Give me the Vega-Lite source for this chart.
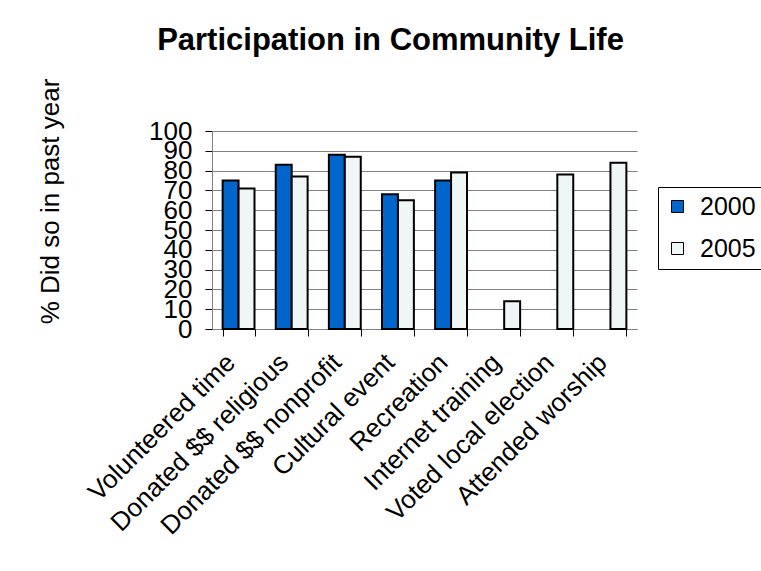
{
  "$schema": "https://vega.github.io/schema/vega-lite/v6.json",
  "autosize": "none",
  "width": 425,
  "height": 198,
  "padding": {"left": 212, "top": 131, "right": 124, "bottom": 242},
  "background": "white",
  "title": {
    "text": "Participation in Community Life",
    "font": "Liberation Sans",
    "fontSize": 31,
    "fontWeight": "bold",
    "color": "black",
    "anchor": "middle",
    "frame": "group",
    "dx": -34,
    "offset": 21
  },
  "data": {
    "values": [
      {"activity": "Volunteered time", "year": "2000", "pct": 75},
      {"activity": "Volunteered time", "year": "2005", "pct": 71},
      {"activity": "Donated $$ religious", "year": "2000", "pct": 83},
      {"activity": "Donated $$ religious", "year": "2005", "pct": 77},
      {"activity": "Donated $$ nonprofit", "year": "2000", "pct": 88},
      {"activity": "Donated $$ nonprofit", "year": "2005", "pct": 87},
      {"activity": "Cultural event", "year": "2000", "pct": 68},
      {"activity": "Cultural event", "year": "2005", "pct": 65},
      {"activity": "Recreation", "year": "2000", "pct": 75},
      {"activity": "Recreation", "year": "2005", "pct": 79},
      {"activity": "Internet training", "year": "2005", "pct": 14},
      {"activity": "Voted local election", "year": "2005", "pct": 78},
      {"activity": "Attended worship", "year": "2005", "pct": 84}
    ]
  },
  "mark": {"type": "bar", "stroke": "black", "strokeWidth": 2},
  "encoding": {
    "x": {
      "field": "activity",
      "type": "nominal",
      "sort": ["Volunteered time", "Donated $$ religious", "Donated $$ nonprofit", "Cultural event", "Recreation", "Internet training", "Voted local election", "Attended worship"],
      "scale": {"paddingInner": 0.4, "paddingOuter": 0.2},
      "axis": {
        "title": null,
        "tickBand": "extent",
        "tickSize": 7,
        "tickColor": "black",
        "domainColor": "#808080",
        "labelAngle": -45,
        "labelAlign": "right",
        "labelBaseline": "middle",
        "labelFont": "Liberation Sans",
        "labelFontSize": 26,
        "labelColor": "black",
        "labelPadding": 22,
        "labelOffset": -8,
        "labelLimit": 0,
        "labelOverlap": false,
        "grid": false
      }
    },
    "xOffset": {"field": "year", "type": "nominal", "scale": {"paddingInner": 0, "paddingOuter": 0}},
    "y": {
      "field": "pct",
      "type": "quantitative",
      "scale": {"domain": [0, 100], "nice": false},
      "axis": {
        "title": "% Did so in past year",
        "titleFont": "Liberation Sans",
        "titleFontSize": 26,
        "titleFontWeight": "normal",
        "titleColor": "black",
        "titleAngle": -90,
        "titleX": -154,
        "titleY": 70,
        "titleAlign": "center",
        "titleBaseline": "alphabetic",
        "values": [0, 10, 20, 30, 40, 50, 60, 70, 80, 90, 100],
        "grid": true,
        "gridColor": "#808080",
        "gridWidth": 1,
        "domainColor": "#808080",
        "tickColor": "black",
        "tickSize": 7,
        "labelFont": "Liberation Sans",
        "labelFontSize": 26,
        "labelColor": "black",
        "labelPadding": 13,
        "labelOverlap": false,
        "labelBound": false,
        "labelFlush": false
      }
    },
    "fill": {
      "field": "year",
      "type": "nominal",
      "scale": {"domain": ["2000", "2005"], "range": ["#0066CC", "#EEF7F5"]},
      "legend": {
        "title": null,
        "orient": "none",
        "legendX": 446,
        "legendY": 56,
        "strokeColor": "black",
        "fillColor": "white",
        "padding": 7,
        "symbolType": "square",
        "symbolSize": 144,
        "symbolStrokeColor": "black",
        "symbolStrokeWidth": 1,
        "labelFont": "Liberation Sans",
        "labelFontSize": 25,
        "labelColor": "black",
        "labelOffset": 10,
        "rowPadding": 16
      }
    }
  },
  "config": {
    "view": {"stroke": null}
  }
}
